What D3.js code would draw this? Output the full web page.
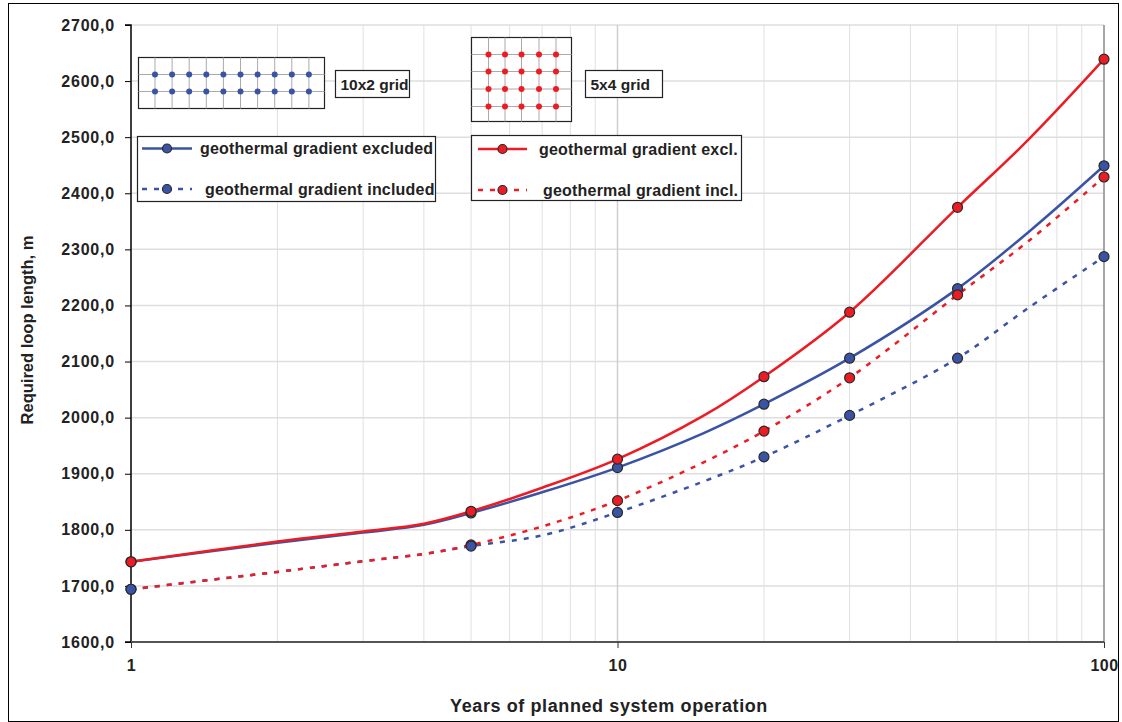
<!DOCTYPE html>
<html><head><meta charset="utf-8">
<script src="https://cdn.jsdelivr.net/npm/d3@7"></script>
<style>body{margin:0;background:#fff}svg{display:block;font-family:"Liberation Sans",Arial,sans-serif;font-weight:bold}</style>
</head><body><svg id="c" width="1122" height="722"></svg>
<script>
// ---- data ----
const lineYears = [1, 2, 3, 4, 5, 7, 10, 15, 20, 30, 50, 70, 100];
const markerYears = [1, 5, 10, 20, 30, 50, 100];
const blueExcl = [1743, 1777, 1795, 1809, 1830, 1867, 1911, 1972, 2024, 2106, 2230, 2331, 2449];
const blueIncl = [1694, 1725, 1744, 1757, 1771, 1790, 1831, 1886, 1930, 2004, 2106, 2196, 2287];
const redExcl  = [1743, 1779, 1797, 1811, 1833, 1875, 1926, 2003, 2073, 2188, 2375, 2496, 2639];
const redIncl  = [1694, 1725, 1744, 1757, 1773, 1806, 1852, 1920, 1976, 2071, 2219, 2315, 2429];
const yTicks = [1600, 1700, 1800, 1900, 2000, 2100, 2200, 2300, 2400, 2500, 2600, 2700];
const xTicks = [1, 10, 100];
const legendLabels = ["geothermal gradient excluded", "geothermal gradient included", "geothermal gradient excl.", "geothermal gradient incl."];
const gridLabels = ["10x2 grid", "5x4 grid"];

const BLUE = "#3a53a4", RED = "#ec1c24";
const svg = d3.select("#c");
const L = 131, R = 1104, T = 25, B = 642;
const x = d3.scaleLog().domain([1, 100]).range([L, R]);
const y = d3.scaleLinear().domain([1600, 2700]).range([B, T]);

// outer frame
svg.append("rect").attr("x", 8.5).attr("y", 3.5).attr("width", 1110).attr("height", 718).attr("fill", "none").attr("stroke", "#000").attr("stroke-width", 1);

// grid
const minor = [];
for (let d = 1; d < 100; d *= 10) for (let k = 2; k <= 9; k++) minor.push(d * k);
svg.append("g").selectAll("line").data(minor).join("line")
  .attr("x1", d => x(d)).attr("x2", d => x(d)).attr("y1", T).attr("y2", B)
  .attr("stroke", "#e0e0e0").attr("stroke-width", 1);
svg.append("g").selectAll("line").data(yTicks.slice(1)).join("line")
  .attr("x1", L).attr("x2", R).attr("y1", d => y(d)).attr("y2", d => y(d))
  .attr("stroke", "#dedede").attr("stroke-width", 1.5);
svg.append("line").attr("x1", x(10)).attr("x2", x(10)).attr("y1", T).attr("y2", B).attr("stroke", "#cfcfcf").attr("stroke-width", 1.5);
svg.append("line").attr("x1", R).attr("x2", R).attr("y1", T).attr("y2", B).attr("stroke", "#8a8a8a").attr("stroke-width", 1.5);

// axes
const yAxis = svg.append("g").attr("transform", `translate(${L},0)`)
  .call(d3.axisLeft(y).tickValues(yTicks).tickSize(6).tickPadding(10).tickFormat(d => d3.format(".1f")(d).replace(".", ",")));
yAxis.select(".domain").attr("stroke", "#000").attr("stroke-width", 1.5).attr("d", `M-6,${T}H0V${B}H-6`);
yAxis.selectAll(".tick line").attr("stroke", "#000");
yAxis.selectAll("text").attr("font-size", 16).attr("letter-spacing", 0.8).attr("font-weight", "bold").attr("font-family", "Liberation Sans, Arial").attr("fill", "#222");

const xAxis = svg.append("g").attr("transform", `translate(0,${B})`)
  .call(d3.axisBottom(x).tickValues(xTicks).tickSize(6).tickPadding(12).tickFormat(d3.format("d")));
xAxis.select(".domain").attr("stroke", "#555").attr("stroke-width", 2).attr("d", `M${L},0H${R}`);
xAxis.selectAll(".tick line").attr("stroke", "#333");
xAxis.selectAll("text").attr("font-size", 16).attr("letter-spacing", 0.5).attr("font-weight", "bold").attr("font-family", "Liberation Sans, Arial").attr("fill", "#222");

svg.append("text").attr("x", 609).attr("y", 712).attr("text-anchor", "middle").attr("font-size", 18).attr("letter-spacing", 0.6).attr("fill", "#222").text("Years of planned system operation");
svg.append("text").attr("transform", "translate(33,330) rotate(-90)").attr("text-anchor", "middle").attr("font-size", 16.5).attr("fill", "#222").text("Required loop length, m");

// series
const S = {
  blueExcl: {vals: blueExcl, color: BLUE, dash: null},
  blueIncl: {vals: blueIncl, color: BLUE, dash: "5,7"},
  redExcl: {vals: redExcl, color: RED, dash: null},
  redIncl: {vals: redIncl, color: RED, dash: "5,7"},
};
const line = d3.line().x(d => x(d[0])).y(d => y(d[1])).curve(d3.curveCatmullRom.alpha(0.5));
[S.blueIncl, S.redIncl, S.blueExcl, S.redExcl].forEach(s => {
  const pts = lineYears.map((yr, i) => [yr, s.vals[i]]);
  svg.append("path").datum(pts).attr("d", line).attr("fill", "none")
    .attr("stroke", s.color).attr("stroke-width", 2.5).attr("stroke-dasharray", s.dash);
});
[S.blueExcl, S.redIncl, S.blueIncl, S.redExcl].forEach(s => {
  const pts = lineYears.map((yr, i) => [yr, s.vals[i]]).filter(p => markerYears.includes(p[0]));
  svg.append("g").selectAll("circle").data(pts).join("circle")
    .attr("cx", d => x(d[0])).attr("cy", d => y(d[1])).attr("r", 5)
    .attr("fill", s.color).attr("stroke", "#2a2a2a").attr("stroke-width", 1.2);
});

// grid pictograms
function gridPic(x0, y0, w, h, xs, ys, color) {
  const g = svg.append("g");
  g.append("rect").attr("x", x0).attr("y", y0).attr("width", w).attr("height", h).attr("fill", "#fff").attr("stroke", "#222").attr("stroke-width", 1.2);
  xs.forEach(v => g.append("line").attr("x1", v).attr("x2", v).attr("y1", y0).attr("y2", y0 + h).attr("stroke", "#aaa").attr("stroke-width", 1));
  ys.forEach(v => g.append("line").attr("x1", x0).attr("x2", x0 + w).attr("y1", v).attr("y2", v).attr("stroke", "#aaa").attr("stroke-width", 1));
  xs.forEach(a => ys.forEach(b => g.append("circle").attr("cx", a).attr("cy", b).attr("r", 3).attr("fill", color)));
}
gridPic(138.5, 57.5, 186, 51, d3.range(10).map(i => 155 + i * 17.1), [74.5, 91.5], BLUE);
gridPic(471.5, 37.5, 100, 84, [488.5, 505, 521.5, 539, 556], [54.5, 71.5, 89, 106.5], RED);

function labelBox(x0, y0, w, h, txt) {
  svg.append("rect").attr("x", x0).attr("y", y0).attr("width", w).attr("height", h).attr("fill", "#fff").attr("stroke", "#222").attr("stroke-width", 1.2);
  svg.append("text").attr("x", x0 + 5).attr("y", y0 + h / 2 + 5.5).attr("font-size", 15.5).attr("fill", "#222").text(txt);
}
labelBox(335.5, 70.5, 74, 27, gridLabels[0]);
labelBox(585.5, 70.5, 77, 27, gridLabels[1]);

function legend(x0, y0, w, h, items) {
  svg.append("rect").attr("x", x0).attr("y", y0).attr("width", w).attr("height", h).attr("fill", "#fff").attr("stroke", "#222").attr("stroke-width", 1.2);
  items.forEach(it => {
    svg.append("line").attr("x1", it.lx1).attr("x2", it.lx2).attr("y1", it.ly).attr("y2", it.ly)
      .attr("stroke", it.color).attr("stroke-width", 2.5).attr("stroke-dasharray", it.dash);
    svg.append("circle").attr("cx", (it.lx1 + it.lx2) / 2).attr("cy", it.ly).attr("r", 4.5).attr("fill", it.color).attr("stroke", "#2a2a2a").attr("stroke-width", 1.2);
    svg.append("text").attr("x", it.tx).attr("y", it.ly + 5.5).attr("font-size", 16).attr("letter-spacing", 0.2).attr("fill", "#222").text(it.text);
  });
}
legend(137.5, 136.5, 298, 65, [
  {lx1: 142, lx2: 192, ly: 148.5, color: BLUE, dash: null, tx: 200, text: legendLabels[0]},
  {lx1: 142, lx2: 192, ly: 189, color: BLUE, dash: "5,7", tx: 205, text: legendLabels[1]},
]);
legend(471.5, 135.5, 270, 65, [
  {lx1: 478, lx2: 527, ly: 149, color: RED, dash: null, tx: 539, text: legendLabels[2]},
  {lx1: 478, lx2: 527, ly: 190, color: RED, dash: "5,7", tx: 543, text: legendLabels[3]},
]);
</script></body></html>
